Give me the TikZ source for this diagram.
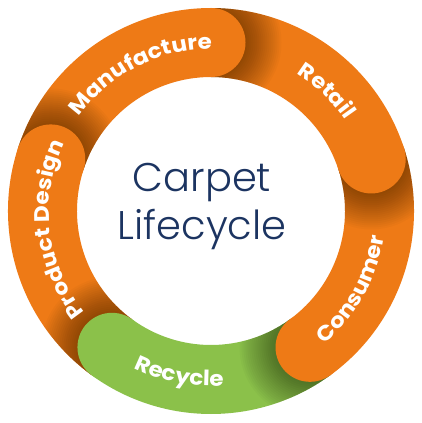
\documentclass[tikz,border=0pt]{standalone}
\usepackage{fontspec}
\setmainfont{Poppins}
\newfontfamily\titlefont{Poppins Light}
\newfontfamily\labelfont{Poppins}[FakeStretch=1.1]
\usetikzlibrary{decorations.text}
\definecolor{carpetorange}{HTML}{EE7A16}
\definecolor{recyclegreen}{HTML}{8BC14A}
\definecolor{titleblue}{HTML}{1C3461}

\begin{document}
\begin{tikzpicture}[x=1pt,y=1pt,
    label arc/.style={decorate, decoration={text along path, text align=center,
      text color=white, text={|\labelfont\bfseries\fontsize{21}{21}\selectfont|#1}}},
    title text/.style={text=titleblue, align=center,
      font=\titlefont\fontsize{40}{48}\selectfont}]
  \useasboundingbox (-211,-212) rectangle (211,211);
  % ring sectors (colour/start/end)
  \foreach \col/\a/\b in {carpetorange/162/90, carpetorange/90/18,
      carpetorange/18/-54, recyclegreen/-54/-126, carpetorange/-126/-198}
    \fill[\col] (\a:203) arc[start angle=\a, end angle=\b, radius=203]
      -- (\b:134) arc[start angle=\b, end angle=\a, radius=134] -- cycle;
  % shadows thrown by the end caps
  \foreach \b/\c in {90/18, 18/-54, -54/-126, -126/-198, -198/-270} {
    \begin{scope}
      \clip (\b:203) arc[start angle=\b, end angle=\c, radius=203]
        -- (\c:134) arc[start angle=\c, end angle=\b, radius=134] -- cycle;
      \foreach \s in {2,4,...,36}
        \fill[black, opacity=0.024] (\b:168.5) circle[radius=34.5+\s];
    \end{scope}
  }
  % end caps
  \foreach \col/\b in {carpetorange/90, carpetorange/18, carpetorange/-54,
      recyclegreen/-126, carpetorange/162}
    \fill[\col] (\b:168.5) circle[radius=34.5];
  % labels
  \path[label arc=Manufacture] (150:162) arc[start angle=150, end angle=84, radius=162];
  \path[label arc=Retail] (70:162) arc[start angle=70, end angle=22, radius=162];
  \path[label arc=Consumer] (-62:175) arc[start angle=-62, end angle=4, radius=175];
  \path[label arc=Recycle] (-135:175) arc[start angle=-135, end angle=-67, radius=175];
  \path[label arc=Product Design] (230:162) arc[start angle=230, end angle=144, radius=162];
  \node[title text] (title) at (-9,5) {Carpet\\Lifecycle};
\end{tikzpicture}
\end{document}
